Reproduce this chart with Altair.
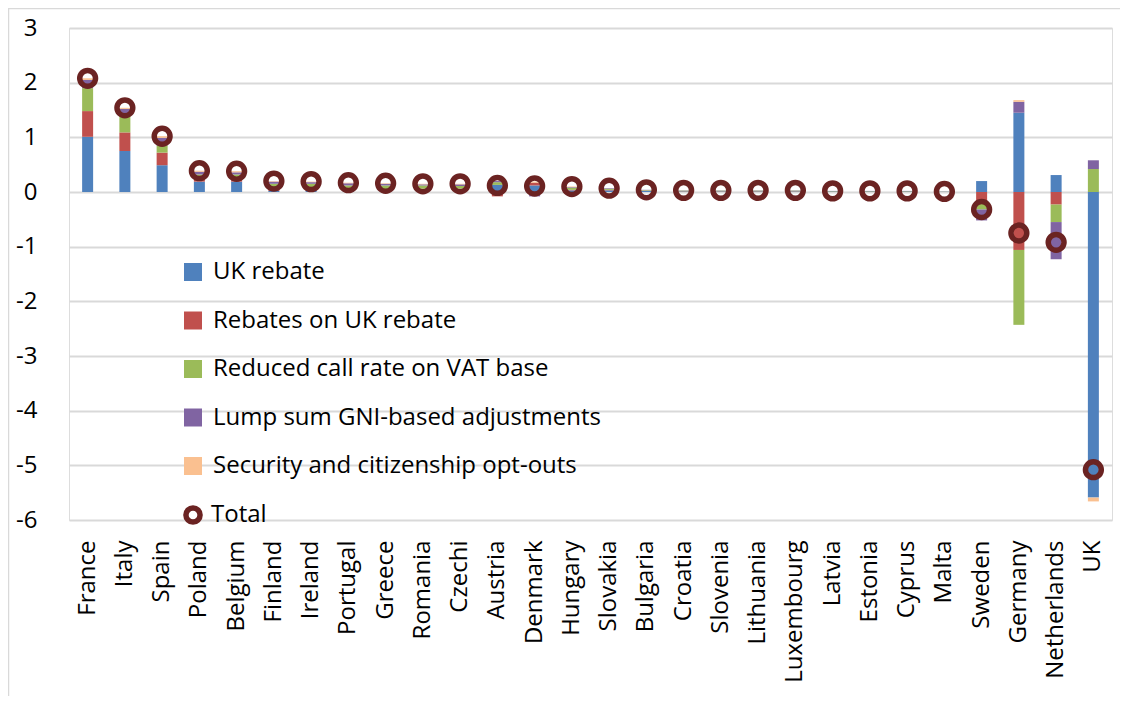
import altair as alt
import pandas as pd

countries = ["France", "Italy", "Spain", "Poland", "Belgium", "Finland", "Ireland",
             "Portugal", "Greece", "Romania", "Czechi", "Austria", "Denmark", "Hungary",
             "Slovakia", "Bulgaria", "Croatia", "Slovenia", "Lithuania", "Luxembourg",
             "Latvia", "Estonia", "Cyprus", "Malta", "Sweden", "Germany", "Netherlands", "UK"]

uk_rebate =     [1.01, 0.75, 0.49, 0.19, 0.19, 0.02, 0.02, 0.03, 0.03, 0.05, 0.04, 0.13, 0.12, 0.03,
                 0.03, 0.02, 0.01, 0.01, 0.01, 0.01, 0.01, 0.01, 0.01, 0.005, 0.20, 1.45, 0.31, -5.59]
rebates_on_uk = [0.47, 0.34, 0.23, 0.03, 0.03, 0.03, 0.06, 0.02, 0.02, 0.01, 0.02, -0.08, 0.05, 0.01,
                 0.01, 0.005, 0.005, 0.005, 0.005, 0.005, 0.003, 0.003, 0.003, 0.001, -0.17, -1.06, -0.23, 0.0]
reduced_vat =   [0.42, 0.31, 0.13, 0.10, 0.10, 0.10, 0.07, 0.07, 0.07, 0.06, 0.05, 0.05, 0.0, 0.04,
                 0.02, 0.01, 0.01, 0.01, 0.01, 0.01, 0.005, 0.005, 0.005, 0.003, -0.15, -1.37, -0.32, 0.42]
lump_sum =      [0.15, 0.12, 0.14, 0.05, 0.04, 0.04, 0.03, 0.04, 0.03, 0.02, 0.03, 0.02, -0.08, 0.01,
                 0.01, 0.005, 0.005, 0.005, 0.005, 0.005, 0.002, 0.002, 0.002, 0.001, -0.20, 0.20, -0.68, 0.16]
opt_outs =      [0.03, 0.02, 0.03, 0.02, 0.02, 0.01, 0.01, 0.01, 0.01, 0.01, 0.01, 0.0, 0.02, 0.01,
                 0.0, 0.0, 0.0, 0.0, 0.0, 0.0, 0.0, 0.0, 0.0, 0.0, 0.0, 0.03, 0.0, -0.07]
totals =        [2.08, 1.54, 1.02, 0.39, 0.38, 0.20, 0.19, 0.17, 0.16, 0.15, 0.15, 0.12, 0.11, 0.10,
                 0.07, 0.04, 0.03, 0.03, 0.03, 0.03, 0.02, 0.02, 0.02, 0.01, -0.32, -0.75, -0.92, -5.08]

components = ["UK rebate", "Rebates on UK rebate", "Reduced call rate on VAT base",
              "Lump sum GNI-based adjustments", "Security and citizenship opt-outs"]
colors = ["#4F81BD", "#C0504D", "#9BBB59", "#8064A2", "#FAC090"]
series = [uk_rebate, rebates_on_uk, reduced_vat, lump_sum, opt_outs]

rows = []
for i, c in enumerate(countries):
    for k, (name, vals) in enumerate(zip(components, series)):
        rows.append({"country": c, "component": name, "value": vals[i], "order": k})
bars_df = pd.DataFrame(rows)
tot_df = pd.DataFrame({"country": countries, "total": totals, "series": ["Total"] * len(countries)})

FONT = "Open Sans"
x_enc = alt.X("country:N", sort=countries, title=None,
              scale=alt.Scale(paddingInner=0, paddingOuter=0),
              axis=alt.Axis(labelAngle=-90, labelAlign="right", labelBaseline="middle",
                            labelPadding=20, ticks=False, domain=False, labelFontSize=24,
                            labelColor="#000000", labelFont=FONT, grid=False, labelLimit=300))
y_scale = alt.Scale(domain=[-6, 3], nice=False, zero=False)

bars = alt.Chart(bars_df).mark_bar(size=11).encode(
    x=x_enc,
    y=alt.Y("value:Q", stack="zero", scale=y_scale, title=None,
            axis=alt.Axis(values=list(range(-6, 4)), labelExpr="'' + datum.value",
                          grid=True, gridColor="#D9D9D9",
                          gridWidth=2, ticks=False, domain=False, labelPadding=32,
                          labelFontSize=24, labelFont=FONT, labelColor="#000000")),
    fill=alt.Fill("component:N", scale=alt.Scale(domain=components, range=colors),
                  legend=alt.Legend(orient="none", legendX=112, legendY=232, title=None,
                                    symbolType="square", symbolSize=324, symbolStrokeWidth=0,
                                    labelFontSize=24, labelFont=FONT, labelColor="#000000",
                                    rowPadding=24.5, labelOffset=8, padding=0, labelLimit=600)),
    order=alt.Order("order:Q"),
)

points = alt.Chart(tot_df).mark_point(filled=False, size=250, strokeWidth=5.5, opacity=1).encode(
    x=alt.X("country:N", sort=countries),
    y=alt.Y("total:Q", scale=y_scale),
    stroke=alt.Stroke("series:N", scale=alt.Scale(domain=["Total"], range=["#6B2322"]),
                      legend=alt.Legend(orient="none", legendX=112, legendY=475, title=None,
                                        symbolType="circle", symbolSize=200, symbolStrokeWidth=5.5,
                                        symbolFillColor="#FFFFFF",
                                        labelFontSize=24, labelFont=FONT, labelColor="#000000",
                                        labelOffset=6, padding=0)),
)

frame = alt.Chart(pd.DataFrame({"f": [0]})).mark_rect(
    fill="transparent", stroke="#D9D9D9", strokeWidth=1.5
).encode(
    x=alt.value(-60.5), x2=alt.value(1065), y=alt.value(-19.5), y2=alt.value(690)
)

chart = alt.layer(frame, bars, points).properties(
    width=1043, height=492,
    autosize=alt.AutoSizeParams(type="none"),
    padding={"left": 61, "top": 20, "right": 8, "bottom": 176},
).configure_view(stroke=None).configure(background="white")

chart.save("out.html", embed_options={"renderer": "svg", "actions": False})
